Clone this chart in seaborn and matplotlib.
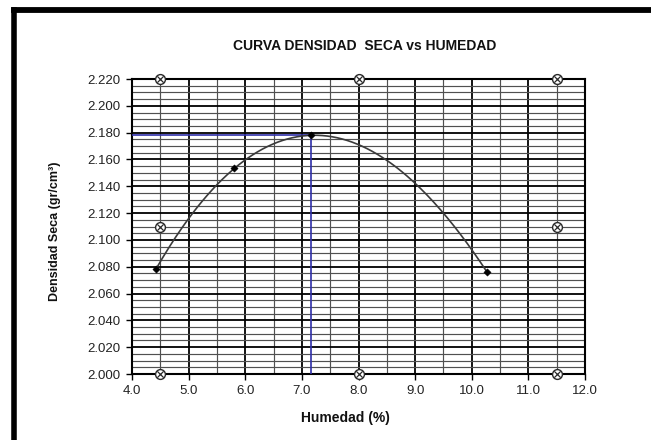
"""
Curva densidad seca vs humedad (ensayo Proctor)
"""
import numpy as np
import pandas as pd
import matplotlib
matplotlib.use("Agg")
import matplotlib.pyplot as plt
import seaborn as sns
from matplotlib.lines import Line2D

# Puntos del ensayo
humedad = [4.42, 5.81, 7.16, 10.27]
densidad = [2.078, 2.1534, 2.178, 2.076]

# Optimo (humedad optima / densidad maxima)
hum_optima = 7.16
dens_maxima = 2.178

# Marcas de referencia (circulo con x)
ref_x = [4.5, 8.0, 11.5, 4.5, 11.5, 4.5, 8.0, 11.5]
ref_y = [2.220, 2.220, 2.220, 2.110, 2.110, 2.000, 2.000, 2.000]

x_ticks = [4.0, 5.0, 6.0, 7.0, 8.0, 9.0, 10.0, 11.0, 12.0]
y_ticks = [2.000, 2.020, 2.040, 2.060, 2.080, 2.100, 2.120, 2.140,
           2.160, 2.180, 2.200, 2.220]

sns.set_style("white")
plt.rcParams['font.family'] = ['Liberation Sans', 'DejaVu Sans']

fig = plt.figure(figsize=(6.51, 4.40), dpi=100)
ax = fig.add_axes([132 / 651, 1 - 374 / 440, 453 / 651, 295 / 440])

# Rejilla
ax.set_xlim(4.0, 12.0)
ax.set_ylim(2.000, 2.220)
ax.set_xticks(x_ticks)
ax.set_yticks(y_ticks)
ax.set_xticks(np.arange(4.5, 12.0, 1.0), minor=True)
ax.set_yticks(np.arange(2.005, 2.220, 0.005), minor=True)
ax.grid(which='minor', color='#505050', linewidth=0.85)
ax.grid(which='major', color='black', linewidth=1.3)
ax.set_axisbelow(True)
ax.xaxis.set_major_formatter(matplotlib.ticker.FormatStrFormatter('%.1f'))
ax.yaxis.set_major_formatter(matplotlib.ticker.FormatStrFormatter('%.3f'))
ax.tick_params(which='major', direction='out', length=4, width=1, color='black',
               labelsize=9.5, labelcolor='#222222', left=True, bottom=True, pad=4)
ax.tick_params(which='minor', length=0)
for sp in ax.spines.values():
    sp.set_color('black')
    sp.set_linewidth(1.5)

# Lineas del optimo
ax.plot([4.0, hum_optima], [dens_maxima, dens_maxima], color='#2f2fa8', lw=1.2, zorder=3)
ax.plot([hum_optima, hum_optima], [2.000, dens_maxima], color='#2f2fa8', lw=1.2, zorder=3)

# Curva de tendencia (polinomio de grado 3)
coef = np.polyfit(humedad, densidad, 3)
xs = np.linspace(min(humedad), max(humedad), 200)
curva = pd.DataFrame({'x': xs, 'y': np.polyval(coef, xs)})
sns.lineplot(data=curva, x='x', y='y', color='#3a3a3a', linewidth=1.2,
             estimator=None, sort=False, ax=ax, zorder=4)

# Puntos del ensayo
puntos = pd.DataFrame({'humedad': humedad, 'densidad': densidad})
sns.scatterplot(data=puntos, x='humedad', y='densidad', marker='D', s=14,
                color='black', edgecolor='black', ax=ax, zorder=5)

# Marcas de referencia
ax.scatter(ref_x, ref_y, s=50, facecolor='white', edgecolor='#2a2a2a',
           linewidth=1.0, zorder=6, clip_on=False)
ax.scatter(ref_x, ref_y, s=20, marker='x', color='#2a2a2a',
           linewidth=0.9, zorder=7, clip_on=False)

# Textos
ax.text(0.514, 1.112, 'CURVA DENSIDAD  SECA vs HUMEDAD', transform=ax.transAxes,
        ha='center', va='center', fontsize=10, fontweight='bold', color='#111111')
ax.set_xlabel('Humedad (%)', fontsize=10, fontweight='bold', color='#111111')
ax.xaxis.set_label_coords(0.472, -0.125)
ax.set_ylabel('Densidad Seca (gr/cm³)', fontsize=9, fontweight='bold', color='#111111')
ax.yaxis.set_label_coords(-0.157, 0.485)

# Marco exterior
fig.add_artist(Line2D([13.5 / 651, 1.0], [1 - 10 / 440, 1 - 10 / 440],
                      transform=fig.transFigure, color='black', lw=4.2,
                      solid_capstyle='projecting'))
fig.add_artist(Line2D([13.5 / 651, 13.5 / 651], [0.0, 1 - 10 / 440],
                      transform=fig.transFigure, color='black', lw=4.0,
                      solid_capstyle='projecting'))

fig.savefig('out.png', dpi=100)
